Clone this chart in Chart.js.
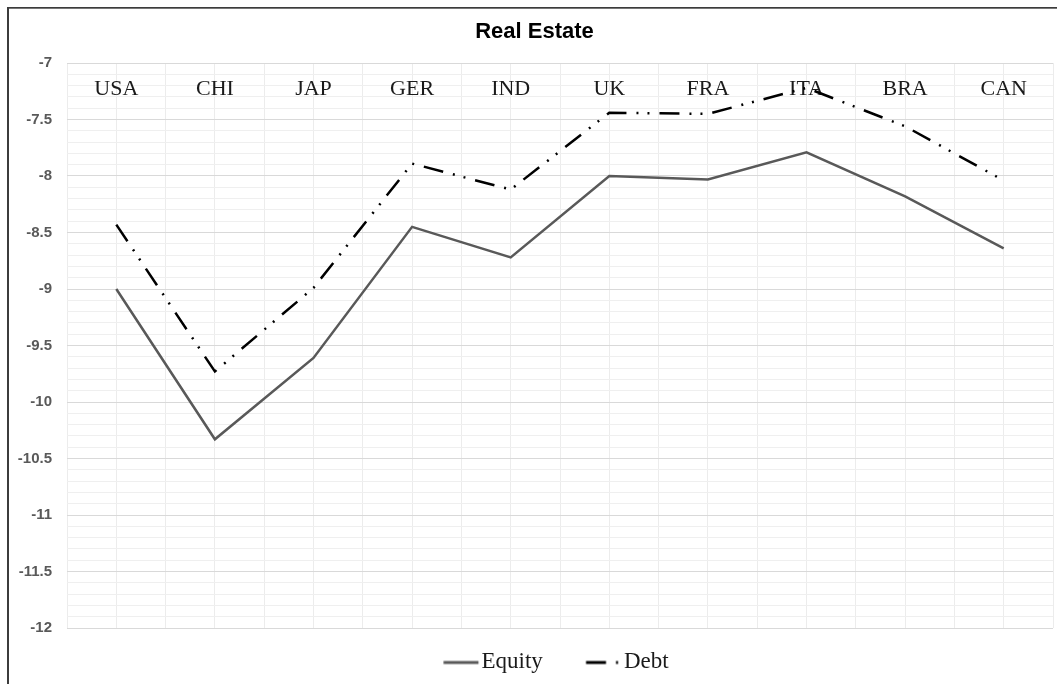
<!DOCTYPE html>
<html>
<head>
<meta charset="utf-8">
<title>Real Estate</title>
<script src="https://cdn.jsdelivr.net/npm/chart.js@4/dist/chart.umd.min.js"></script>
<style>
  html, body { margin: 0; padding: 0; background: #ffffff; }
  canvas { display: block; }
</style>
</head>
<body>
<canvas id="chart" width="1057" height="684"></canvas>
<script>
// Country codes along the category axis
const categories = ['USA', 'CHI', 'JAP', 'GER', 'IND', 'UK', 'FRA', 'ITA', 'BRA', 'CAN'];

// Series values
const equity = [-9.00, -10.33, -9.61, -8.45, -8.72, -8.00, -8.03, -7.79, -8.18, -8.64];
const debt   = [-8.43, -9.73, -8.99, -7.89, -8.12, -7.44, -7.45, -7.22, -7.56, -8.04];

// Value axis range: labelled every 0.5, minor grid every 0.1
const yMin = -12;
const yMax = -7;
const yTickCount = 51;

const isMajor = v => Math.abs(v * 2 - Math.round(v * 2)) < 1e-6;

// Legend geometry
const LEGEND_FONT = 23;
const LEGEND_BOX = 69.7;

// Small line swatch used as the legend marker, ending just before the label text
function lineSample(color, width, dash, length) {
  const offset = LEGEND_BOX / 2 + LEGEND_FONT / 2 - 38;
  const half = Math.ceil(Math.max(Math.abs(offset), Math.abs(offset + length))) + 1;
  const c = document.createElement('canvas');
  c.width = half * 2;
  c.height = 10;
  const g = c.getContext('2d');
  g.strokeStyle = color;
  g.lineWidth = width;
  g.lineCap = 'butt';
  g.setLineDash(dash);
  g.beginPath();
  g.moveTo(half + offset, 6);
  g.lineTo(half + offset + length, 6);
  g.stroke();
  return c;
}

const debtDash = [20, 10, 2, 9, 2, 10];
const swatches = [
  lineSample('#595959', 3, [], 35),
  lineSample('#000000', 3, debtDash, 32)
];

// White page with the frame lines on the left and top
const frame = {
  id: 'frame',
  beforeDraw(chart) {
    const ctx = chart.ctx;
    ctx.save();
    ctx.fillStyle = '#ffffff';
    ctx.fillRect(0, 0, chart.width, chart.height);
    ctx.fillStyle = '#3c3c3c';
    ctx.fillRect(7, 7, 2, chart.height - 7);
    ctx.fillRect(7, 7, chart.width - 7, 1.7);
    ctx.restore();
  }
};

const catFontSize = 22;
const catLineHeight = catFontSize * 1.2;
const catLabelCentre = 26.5; // below the top edge of the plot

new Chart(document.getElementById('chart'), {
  type: 'line',
  data: {
    labels: categories,
    datasets: [
      {
        label: 'Equity',
        data: equity,
        borderColor: '#595959',
        backgroundColor: '#595959',
        borderWidth: 2.5,
        pointRadius: 0,
        tension: 0,
        fill: false
      },
      {
        label: 'Debt',
        data: debt,
        borderColor: '#000000',
        backgroundColor: '#000000',
        borderWidth: 2.5,
        borderDash: debtDash,
        borderCapStyle: 'butt',
        pointRadius: 0,
        tension: 0,
        fill: false
      }
    ]
  },
  options: {
    responsive: false,
    animation: false,
    devicePixelRatio: 1,
    layout: { padding: { left: 16, right: 4, top: 0, bottom: 1 } },
    plugins: {
      title: {
        display: true,
        text: 'Real Estate',
        color: '#000000',
        font: { family: '"Liberation Sans", Arial, sans-serif', size: 22, weight: 'bold', lineHeight: 1.2 },
        padding: { top: 18.3, bottom: 18.3 }
      },
      legend: {
        display: true,
        position: 'bottom',
        labels: {
          usePointStyle: true,
          pointStyleWidth: LEGEND_BOX,
          padding: 0,
          color: '#1a1a1a',
          font: { family: '"Liberation Serif", "Times New Roman", serif', size: LEGEND_FONT },
          generateLabels(chart) {
            const items = Chart.defaults.plugins.legend.labels.generateLabels(chart);
            items.forEach((it, i) => { it.pointStyle = swatches[i]; });
            return items;
          }
        }
      },
      tooltip: { enabled: false }
    },
    scales: {
      x: {
        type: 'category',
        position: 'top',
        offset: true,
        grid: { display: false, drawTicks: false },
        border: { display: false },
        ticks: {
          mirror: true,
          color: '#1a1a1a',
          font: { family: '"Liberation Serif", "Times New Roman", serif', size: catFontSize, lineHeight: 1.2 },
          padding: catLabelCentre - catLineHeight / 2,
          maxRotation: 0,
          autoSkip: false
        },
        afterFit(scale) {
          scale.height = 0;
          scale.paddingLeft = 0;
          scale.paddingRight = 0;
        }
      },
      xGrid: {
        type: 'linear',
        position: 'bottom',
        min: 0,
        max: categories.length * 2,
        grid: { color: '#ececec', lineWidth: 1, drawTicks: false },
        border: { display: false },
        ticks: { display: false, count: categories.length * 2 + 1 },
        afterFit(scale) { scale.height = 22; }
      },
      y: {
        type: 'linear',
        position: 'left',
        min: yMin,
        max: yMax,
        grid: {
          drawTicks: false,
          lineWidth: 1,
          color: ctx => isMajor(ctx.tick.value) ? '#d9d9d9' : '#efefef'
        },
        border: { display: false },
        ticks: {
          count: yTickCount,
          autoSkip: false,
          padding: 15,
          color: '#595959',
          font: { family: '"Liberation Sans", Arial, sans-serif', size: 15, weight: 'bold' },
          callback: v => isMajor(v) ? String(Number(v.toFixed(1))) : ''
        },
        afterFit(scale) { scale.width = 51; }
      }
    }
  },
  plugins: [frame]
});
</script>
</body>
</html>
